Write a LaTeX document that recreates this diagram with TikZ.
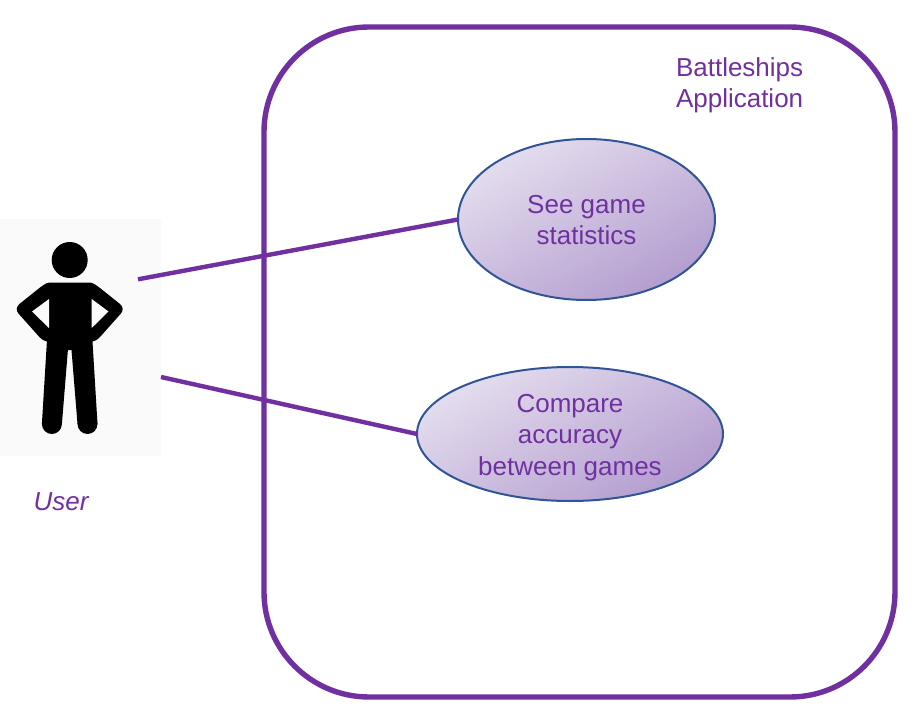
\documentclass[tikz,border=0pt]{standalone}
\usepackage{fontspec}
\setmainfont{Liberation Sans}
\usetikzlibrary{shapes.geometric}
\definecolor{vio}{HTML}{7030A0}
\definecolor{edgeblue}{HTML}{2F5597}
\definecolor{bgpanel}{HTML}{FAFAFA}
\definecolor{uclight}{HTML}{E4DDEE}
\definecolor{ucdark}{HTML}{B39DCF}
\tikzset{
  apptext/.style={text=vio,font=\fontsize{26}{31.5}\selectfont,align=center,inner sep=0pt,outer sep=0pt},
  usecase/.style={ellipse,draw=edgeblue,line width=2pt,inner sep=0pt,outer sep=0pt,
    top color=uclight,bottom color=ucdark,shading angle=30},
  link/.style={draw=vio,line width=4.4pt},
  boundary/.style={draw=vio,line width=5.4pt,rounded corners=105pt,inner sep=0pt,outer sep=0pt,rectangle},
}
\begin{document}
\begin{tikzpicture}[x=1pt,y=-1pt]
\useasboundingbox (0,0) rectangle (922,725);
% user panel
\fill[bgpanel] (0,219) rectangle (160.5,456);
\fill[black] (69.7,260) circle (18);
\fill[black]
  (49.4,282.5) -- (90,282.5) .. controls (94,283) and (97,286) .. (100,288)
  -- (120,304) .. controls (123.5,307) and (123.5,311) .. (120.5,314)
  -- (100,337) .. controls (97,340) and (95,341) .. (92.5,341.5)
  -- (97.5,424) -- (77.5,424) -- (71.5,350) -- (67.9,350) -- (61.9,424) -- (41.9,424) -- (46.9,341.5)
  .. controls (44.4,341) and (42.4,340) .. (39.4,337)
  -- (18.9,314) .. controls (15.9,311) and (15.9,307) .. (19.4,304)
  -- (39.4,288) .. controls (42.4,286) and (45.4,283) .. (49.4,282.5) -- cycle;
\fill[black] (51.9,424) circle (10) (87.5,424) circle (10);
\fill[bgpanel] (49,299) -- (32,311.5) -- (49,328) -- cycle;
\fill[bgpanel] (91.7,299) -- (108.5,311.5) -- (91.7,328) -- cycle;
\coordinate (userA) at (138,279.3);
\coordinate (userB) at (161,377);
% boundary
\node[boundary,minimum width=631pt,minimum height=670pt] (app) at (579.5,362) {};
% use cases
\node[usecase,minimum width=257pt,minimum height=161pt] (stats) at (586.5,219.5) {};
\node[usecase,minimum width=306pt,minimum height=134pt] (compare) at (570,434) {};
\draw[link] (userA) -- (stats.west);
\draw[link] (userB) -- (compare.west);
% labels
\node[apptext] (statstext) at (586.5,220) {See game\\statistics};
\node[apptext] (comparetext) at (570,437.5) {Compare\\accuracy\\between games};
\node[apptext,align=left,anchor=west] (title) at (676,85.5) {Battleships\\Application};
\node[apptext,anchor=center] (user) at (61,501.5) {\itshape User};
\end{tikzpicture}
\end{document}
